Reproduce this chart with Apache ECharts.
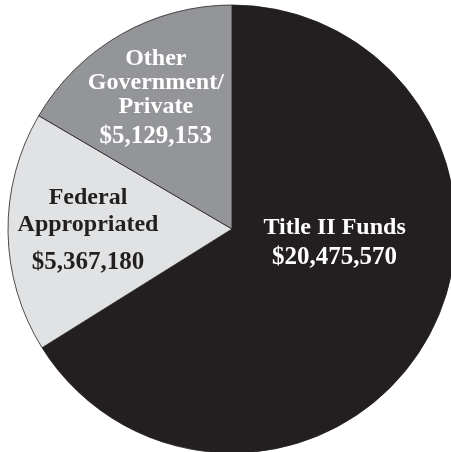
<!DOCTYPE html>
<html>
<head>
<meta charset="utf-8">
<script src="https://cdn.jsdelivr.net/npm/echarts@6/dist/echarts.min.js"></script>
<style>
html,body{margin:0;padding:0;background:#fff;}
#chart{width:451px;height:452px;}
</style>
</head>
<body>
<div id="chart"></div>
<script>
const categories = ['Title II Funds', 'Federal\nAppropriated', 'Other\nGovernment/\nPrivate'];
const values = [20475570, 5367180, 5129153];
const valueLabels = ['$20,475,570', '$5,367,180', '$5,129,153'];
const colors = ['#231f20', '#e1e2e3', '#939598'];
const textColors = ['#ffffff', '#231f20', '#ffffff'];

const font = 'Liberation Serif';
const labelPads = [[0, 0, 84, 4], [9, 58, 0, 0], [0, 38, 58, 0]];
const nameLH = [30, 27, 24];
const valLH = [30, 47, 34];

const data = categories.map((c, i) => ({
  name: c,
  value: values[i],
  itemStyle: { color: colors[i] },
  label: {
    padding: labelPads[i],
    formatter: c.split('\n').map(s => '{n|' + s + '}').join('\n') + '\n{v|' + valueLabels[i] + '}',
    rich: {
      n: { fontFamily: font, fontWeight: 'bold', fontSize: 24, lineHeight: nameLH[i], color: textColors[i], align: 'center' },
      v: { fontFamily: font, fontWeight: 'bold', fontSize: 25, lineHeight: valLH[i], color: textColors[i], align: 'center' }
    }
  }
}));

const chart = echarts.init(document.getElementById('chart'), null, { renderer: 'canvas' });
chart.setOption({
  animation: false,
  series: [{
    type: 'pie',
    center: [232, 229],
    radius: [0, 224],
    startAngle: 90,
    clockwise: true,
    silent: true,
    itemStyle: { borderColor: '#231f20', borderWidth: 0.8 },
    label: { show: true, position: 'inside', align: 'center', verticalAlign: 'middle' },
    labelLine: { show: false },
    data: data
  }]
});
</script>
</body>
</html>
